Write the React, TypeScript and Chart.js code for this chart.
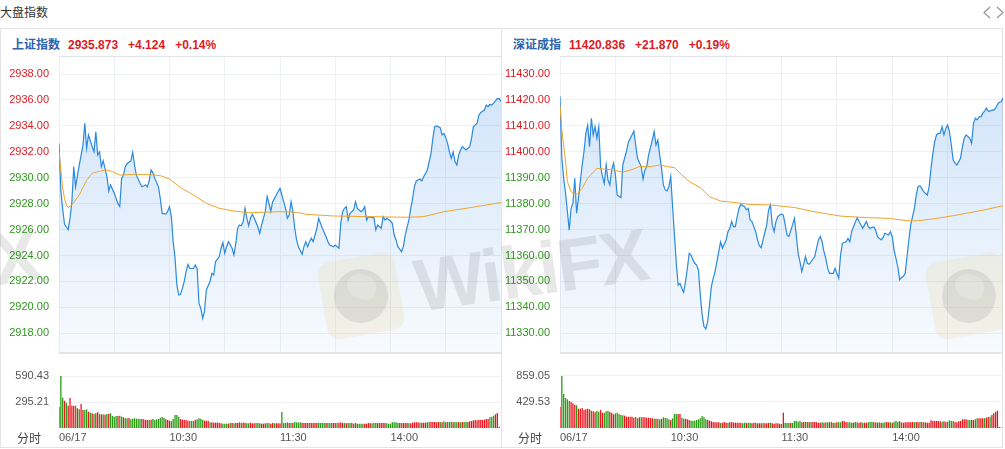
import React, { useEffect, useRef } from "react";
import { Chart, registerables } from "chart.js";

Chart.register(...registerables);

// ---- palette & fonts ----
const UP = "#de1a21";
const DOWN = "#2e971d";
const UP_BAR = "#e8161e";
const DOWN_BAR = "#2b9a14";
const PRICE_LINE = "#2b89de";
const AVG_LINE = "#f0a32c";
const GRID = "#edf0f4";
const FRAME = "#e1e4e9";
const MUTED = "#555555";
const NUM_FONT = "'Liberation Sans', Arial, Helvetica, sans-serif";
const CJK_FONT = "'Noto Sans CJK SC', 'Microsoft YaHei', sans-serif";

// ---- trading-session axis (minute index, 09:30-11:30 + 13:00-15:00) ----
const sessionGrid = [0, 30, 60, 90, 120, 150, 180, 210, 240];
const sessionLabelAt = [0, 60, 120, 180];
const sessionLabelText = ["06/17", "10:30", "11:30", "14:00"];

// ---- 上证指数 ----
const shName = "上证指数";
const shChange = 4.124;
const shPct = 0.14;
const shPriceTicks = [2918, 2920, 2922, 2924, 2926, 2928, 2930, 2932, 2934, 2936, 2938];
const shPriceMin = 2916.48;
const shPriceMax = 2939.39;
const shVolTicks = [295.21, 590.43];
const shVolMax = 851.6;

// [minute, price]
const shPrice = [
  [0, 2932.65], [1, 2929.0], [2, 2927.6], [3, 2926.4], [4, 2926.2], [5, 2926.0], [6, 2926.9], [7, 2928.15],
  [8, 2930.85], [9, 2929.3], [11, 2930.98], [13, 2932.5], [14, 2934.2], [15, 2932.27], [16, 2933.3], [18, 2932.4],
  [19, 2932.0], [20, 2933.55], [21, 2931.75], [22, 2932.0], [23, 2930.85], [24, 2931.3], [25, 2930.7], [26, 2930.1],
  [27, 2928.98], [28, 2929.44], [30, 2928.8], [32, 2928.0], [33, 2927.77], [34, 2929.95], [35, 2930.2], [36, 2930.85],
  [37, 2931.1], [39, 2931.3], [40, 2931.96], [41, 2930.98], [42, 2930.2], [44, 2929.57], [45, 2929.3], [47, 2929.44],
  [48, 2929.3], [49, 2929.8], [50, 2930.6], [51, 2930.4], [52, 2929.95], [54, 2929.3], [55, 2928.4], [56, 2927.25],
  [58, 2927.2], [59, 2927.4], [60, 2927.77], [61, 2927.0], [62, 2925.07], [63, 2923.8], [64, 2921.73], [65, 2920.95],
  [66, 2921.0], [67, 2921.47], [68, 2922.0], [69, 2922.76], [70, 2923.3], [71, 2923.0], [73, 2923.0], [74, 2923.27],
  [75, 2923.0], [76, 2920.3], [77, 2919.93], [78, 2919.16], [79, 2919.67], [80, 2921.34], [82, 2922.0], [83, 2922.63],
  [84, 2922.5], [85, 2923.53], [87, 2923.9], [88, 2924.56], [89, 2925.0], [90, 2924.17], [91, 2924.68], [92, 2925.07],
  [94, 2924.56], [95, 2924.04], [96, 2924.94], [97, 2926.1], [98, 2926.35], [99, 2926.3], [100, 2926.6], [101, 2927.64],
  [102, 2926.87], [103, 2926.3], [104, 2926.9], [105, 2927.18], [106, 2926.87], [108, 2926.2], [109, 2925.7], [110, 2926.35],
  [112, 2927.4], [113, 2928.54], [114, 2928.03], [115, 2927.4], [116, 2928.15], [117, 2928.41], [118, 2928.67], [120, 2929.18],
  [121, 2928.67], [122, 2928.15], [123, 2927.64], [124, 2926.87], [125, 2927.13], [126, 2928.15], [127, 2927.4], [128, 2926.1],
  [129, 2925.2], [130, 2924.68], [132, 2924.09], [133, 2924.68], [134, 2925.07], [135, 2924.68], [136, 2925.07], [137, 2925.33],
  [138, 2925.07], [140, 2926.1], [141, 2926.87], [142, 2926.48], [143, 2926.1], [145, 2925.45], [146, 2925.07], [147, 2924.81],
  [149, 2924.68], [150, 2924.81], [152, 2924.56], [153, 2926.48], [154, 2927.38], [155, 2927.64], [156, 2927.77], [157, 2926.74],
  [158, 2927.25], [160, 2927.51], [161, 2928.15], [162, 2927.64], [164, 2927.38], [165, 2927.51], [166, 2927.77], [167, 2926.74],
  [168, 2927.0], [170, 2926.92], [171, 2926.92], [172, 2925.97], [173, 2926.35], [175, 2926.1], [176, 2927.0], [177, 2926.74],
  [178, 2926.87], [180, 2926.66], [181, 2926.48], [182, 2925.58], [183, 2925.2], [184, 2924.68], [185, 2924.5], [186, 2924.3],
  [187, 2924.68], [188, 2925.58], [190, 2926.74], [191, 2927.64], [192, 2928.41], [193, 2929.31], [194, 2929.75], [196, 2929.9],
  [197, 2929.75], [198, 2930.08], [200, 2930.6], [201, 2931.24], [202, 2931.88], [203, 2933.04], [204, 2933.94], [205, 2933.99],
  [207, 2933.86], [208, 2933.3], [209, 2933.42], [210, 2933.09], [211, 2932.65], [212, 2932.0], [213, 2931.5], [214, 2932.0],
  [215, 2931.24], [216, 2930.98], [217, 2931.75], [218, 2932.14], [219, 2932.4], [220, 2932.27], [221, 2932.14], [223, 2932.4],
  [224, 2933.04], [225, 2933.94], [227, 2934.2], [228, 2934.84], [229, 2935.04], [231, 2935.22], [232, 2935.6], [233, 2935.48],
  [234, 2935.66], [235, 2935.6], [237, 2935.92], [238, 2936.12], [239, 2936.1], [240, 2935.873],
];

const shAvg = [
  [0, 2932.0], [1, 2930.6], [2, 2929.2], [3, 2928.4], [4, 2927.9], [5, 2927.7], [7, 2927.9], [11, 2928.67],
  [15, 2929.8], [18, 2930.34], [22, 2930.5], [26, 2930.6], [29, 2930.47], [33, 2930.2], [40, 2930.26], [48, 2930.26],
  [55, 2930.16], [60, 2929.9], [66, 2929.23], [73, 2928.67], [80, 2928.03], [87, 2927.64], [95, 2927.43], [103, 2927.3],
  [120, 2927.38], [129, 2927.33], [134, 2927.18], [149, 2927.05], [167, 2927.0], [189, 2926.95], [198, 2927.0], [209, 2927.38],
  [221, 2927.64], [230, 2927.85], [240, 2928.08],
];

const shVolume = [
  242, 590.43, 344, 310, 288, 254, 341, 254, 254, 254,
  223, 212, 272, 204, 204, 212, 185, 174, 167, 159,
  167, 178, 159, 155, 155, 151, 159, 159, 167, 136,
  129, 136, 136, 140, 129, 121, 110, 110, 114, 98,
  106, 110, 106, 106, 102, 102, 98, 91, 91, 91,
  95, 102, 91, 98, 102, 117, 125, 117, 98, 91,
  83, 76, 102, 148, 148, 129, 102, 95, 95, 91,
  83, 79, 79, 79, 91, 98, 110, 106, 91, 83,
  83, 83, 64, 64, 61, 61, 61, 61, 53, 49,
  49, 49, 49, 57, 57, 53, 57, 57, 64, 57,
  61, 61, 53, 53, 61, 53, 53, 57, 57, 53,
  49, 49, 53, 53, 57, 49, 57, 53, 53, 53,
  53, 182, 57, 57, 64, 57, 61, 57, 68, 64,
  61, 64, 57, 57, 57, 57, 57, 57, 57, 57,
  57, 57, 57, 57, 57, 57, 57, 57, 57, 57,
  57, 57, 61, 64, 57, 57, 53, 57, 57, 57,
  49, 57, 49, 49, 49, 49, 49, 49, 57, 53,
  53, 57, 57, 57, 57, 57, 57, 57, 53, 49,
  49, 64, 64, 64, 57, 57, 57, 57, 57, 57,
  53, 53, 61, 64, 64, 64, 61, 61, 61, 61,
  64, 68, 68, 68, 68, 64, 68, 68, 64, 76,
  64, 68, 68, 68, 64, 68, 64, 68, 64, 68,
  68, 68, 68, 76, 79, 87, 91, 87, 91, 91,
  91, 95, 102, 102, 121, 129, 140, 155, 170, 14, 0,
];

// 1 = up minute (red), 0 = down minute (green)
const shVolumeUp = [
  1, 0, 0, 1, 0, 1, 1, 1, 1, 0, 1, 0, 1, 1, 0, 0, 1, 0, 1, 0,
  1, 1, 0, 1, 0, 1, 0, 1, 0, 0, 0, 0, 1, 0, 0, 1, 0, 0, 1, 0,
  0, 0, 0, 0, 0, 1, 1, 1, 1, 0, 1, 0, 0, 0, 0, 0, 0, 0, 1, 1,
  1, 0, 0, 0, 0, 0, 1, 1, 1, 1, 1, 0, 0, 0, 1, 0, 0, 0, 0, 1,
  1, 1, 0, 1, 1, 1, 1, 1, 1, 0, 0, 0, 1, 0, 1, 0, 1, 1, 1, 0,
  1, 1, 0, 0, 1, 1, 1, 0, 0, 0, 1, 1, 1, 0, 0, 1, 1, 0, 1, 1,
  1, 0, 0, 0, 0, 1, 0, 1, 0, 0, 0, 0, 1, 1, 1, 1, 0, 1, 1, 1,
  1, 0, 0, 0, 0, 1, 0, 0, 0, 1, 1, 0, 1, 1, 1, 0, 1, 0, 0, 1,
  0, 1, 0, 0, 0, 0, 1, 1, 1, 1, 0, 0, 0, 1, 0, 1, 1, 1, 0, 0,
  0, 0, 0, 0, 0, 1, 0, 1, 1, 1, 0, 1, 1, 1, 1, 1, 0, 1, 1, 1,
  0, 0, 1, 1, 1, 1, 1, 0, 1, 0, 1, 0, 0, 0, 1, 0, 0, 1, 0, 1,
  0, 0, 1, 1, 1, 1, 1, 1, 1, 1, 1, 1, 1, 1, 0, 0, 0, 1, 1, 1, 1,
];

// ---- 深证成指 ----
const szName = "深证成指";
const szChange = 21.87;
const szPct = 0.19;
const szPriceTicks = [11330, 11340, 11350, 11360, 11370, 11380, 11390, 11400, 11410, 11420, 11430];
const szPriceMin = 11322.4;
const szPriceMax = 11436.94;
const szVolTicks = [429.53, 859.05];
const szVolMax = 1239.0;

const szPrice = [
  [0, 11421.3], [1, 11397.5], [2, 11389.8], [3, 11384.0], [4, 11377.0], [5, 11369.8], [6, 11378.2], [7, 11380.1],
  [8, 11389.8], [9, 11376.3], [10, 11382.1], [11, 11388.5], [12, 11394.9], [13, 11400.1], [14, 11407.1], [15, 11410.3],
  [16, 11402.0], [17, 11412.9], [18, 11406.5], [19, 11409.7], [20, 11405.2], [21, 11409.7], [22, 11394.3], [23, 11390.4],
  [24, 11387.8], [25, 11394.9], [26, 11389.1], [27, 11387.2], [28, 11393.0], [29, 11395.6], [30, 11391.1], [31, 11383.3],
  [33, 11382.3], [34, 11394.9], [35, 11397.5], [36, 11400.1], [37, 11403.6], [39, 11406.5], [40, 11408.0], [41, 11402.6],
  [42, 11397.5], [44, 11394.3], [45, 11389.5], [46, 11393.0], [47, 11394.3], [48, 11398.8], [50, 11404.5], [51, 11407.8],
  [52, 11402.6], [53, 11404.5], [54, 11398.8], [55, 11393.6], [56, 11387.2], [57, 11385.3], [58, 11384.9], [59, 11386.6],
  [60, 11390.4], [61, 11378.8], [62, 11367.9], [63, 11357.0], [64, 11348.6], [65, 11349.3], [66, 11347.4], [67, 11345.8],
  [68, 11349.9], [69, 11355.1], [70, 11360.8], [71, 11360.2], [72, 11358.3], [73, 11357.0], [74, 11356.3], [75, 11354.4],
  [76, 11344.8], [77, 11337.1], [78, 11332.6], [79, 11331.7], [80, 11334.5], [81, 11340.9], [82, 11348.0], [83, 11351.2],
  [84, 11353.8], [85, 11357.6], [86, 11361.5], [87, 11365.3], [88, 11362.8], [90, 11366.0], [91, 11369.2], [92, 11370.5],
  [93, 11373.1], [94, 11371.1], [95, 11371.1], [96, 11375.0], [97, 11378.2], [98, 11379.7], [100, 11378.8], [101, 11377.6],
  [102, 11378.2], [103, 11373.7], [104, 11373.1], [106, 11369.2], [107, 11366.0], [108, 11363.8], [109, 11363.0], [110, 11366.0],
  [112, 11371.8], [113, 11377.6], [114, 11379.5], [115, 11371.8], [116, 11369.2], [117, 11373.1], [118, 11375.0], [119, 11375.6],
  [120, 11375.9], [121, 11375.6], [122, 11371.8], [123, 11367.9], [124, 11367.3], [126, 11371.8], [127, 11374.3], [128, 11367.9],
  [129, 11360.8], [130, 11357.6], [131, 11353.8], [132, 11356.6], [133, 11359.6], [134, 11357.0], [135, 11356.6], [136, 11357.6],
  [138, 11359.6], [139, 11362.8], [140, 11366.0], [141, 11367.3], [142, 11365.3], [143, 11361.5], [144, 11358.9], [145, 11355.1],
  [146, 11353.1], [148, 11353.1], [149, 11355.1], [150, 11353.1], [151, 11351.2], [152, 11360.2], [153, 11364.7], [155, 11365.3],
  [156, 11366.6], [157, 11365.3], [158, 11369.2], [159, 11371.1], [161, 11374.6], [162, 11373.1], [164, 11370.5], [165, 11371.8],
  [166, 11373.1], [167, 11371.1], [168, 11370.5], [170, 11371.1], [171, 11369.8], [172, 11367.3], [174, 11366.0], [175, 11366.9],
  [176, 11368.6], [178, 11367.9], [179, 11369.2], [180, 11367.3], [181, 11362.1], [182, 11358.9], [183, 11355.7], [184, 11350.6],
  [185, 11351.5], [186, 11351.9], [187, 11353.1], [188, 11359.6], [189, 11366.0], [190, 11371.8], [192, 11378.2], [193, 11383.3],
  [194, 11386.6], [195, 11386.9], [196, 11385.9], [197, 11384.6], [199, 11383.3], [200, 11386.6], [201, 11393.6], [202, 11399.4],
  [203, 11403.9], [204, 11406.5], [205, 11407.1], [206, 11407.1], [207, 11409.7], [208, 11406.5], [209, 11409.0], [210, 11410.3],
  [211, 11407.8], [212, 11402.6], [213, 11396.8], [214, 11395.6], [215, 11394.9], [217, 11397.5], [218, 11402.0], [219, 11405.2],
  [220, 11406.5], [222, 11405.2], [223, 11403.3], [224, 11411.0], [225, 11412.9], [226, 11412.3], [227, 11413.5], [228, 11413.5],
  [229, 11414.8], [230, 11415.7], [231, 11416.8], [232, 11415.7], [233, 11415.7], [234, 11416.1], [235, 11416.1], [236, 11416.8],
  [237, 11418.3], [238, 11419.1], [239, 11419.3], [240, 11420.836],
];

const szAvg = [
  [0, 11418.0], [1, 11408.4], [3, 11396.2], [4, 11388.5], [6, 11384.6], [9, 11383.6], [12, 11385.9], [15, 11389.8],
  [20, 11393.6], [23, 11393.4], [29, 11393.0], [34, 11392.1], [40, 11393.4], [43, 11394.3], [49, 11394.3], [54, 11394.9],
  [58, 11394.3], [62, 11393.9], [66, 11391.1], [70, 11388.5], [76, 11386.2], [81, 11382.7], [87, 11381.0], [94, 11380.5],
  [103, 11379.7], [114, 11379.5], [127, 11378.5], [139, 11376.7], [152, 11375.2], [166, 11374.6], [179, 11374.3], [188, 11373.4],
  [194, 11373.4], [204, 11374.3], [215, 11375.6], [230, 11377.6], [240, 11379.2],
];

const szVolume = [
  352, 859.05, 562, 496, 474, 446, 430, 408, 385, 374,
  319, 319, 330, 297, 308, 319, 308, 286, 275, 259,
  286, 270, 297, 253, 253, 275, 286, 264, 253, 226,
  242, 253, 231, 215, 209, 204, 187, 187, 187, 187,
  171, 182, 160, 176, 182, 176, 176, 171, 171, 165,
  160, 154, 154, 154, 143, 149, 176, 171, 160, 143,
  132, 160, 231, 231, 231, 231, 171, 154, 154, 143,
  132, 121, 121, 121, 132, 143, 160, 198, 176, 143,
  132, 121, 110, 99, 94, 94, 94, 83, 88, 99,
  88, 88, 94, 99, 88, 88, 88, 88, 88, 77,
  88, 83, 88, 88, 77, 88, 88, 77, 77, 77,
  83, 77, 77, 83, 88, 77, 72, 77, 77, 72,
  66, 253, 83, 83, 83, 83, 83, 116, 116, 105,
  116, 94, 99, 99, 99, 99, 99, 99, 99, 94,
  88, 88, 94, 88, 94, 94, 94, 99, 88, 88,
  94, 94, 94, 116, 110, 99, 94, 94, 88, 88,
  99, 94, 88, 94, 88, 88, 88, 94, 99, 99,
  94, 94, 88, 94, 88, 88, 94, 99, 94, 94,
  88, 105, 116, 105, 110, 94, 88, 94, 94, 99,
  94, 99, 94, 99, 94, 99, 99, 94, 94, 88,
  88, 127, 116, 116, 116, 116, 110, 105, 110, 99,
  105, 127, 116, 116, 99, 94, 110, 116, 143, 143,
  143, 132, 132, 132, 132, 143, 160, 160, 160, 160,
  160, 171, 182, 187, 215, 242, 270, 286, 15, 10, 0,
];

const szVolumeUp = [
  1, 0, 0, 0, 0, 0, 1, 1, 1, 0, 1, 1, 1, 1, 1, 1, 1, 0, 1, 1,
  0, 0, 1, 1, 0, 0, 0, 1, 1, 1, 0, 0, 0, 0, 0, 1, 1, 1, 1, 1,
  1, 0, 0, 1, 0, 1, 1, 1, 1, 1, 1, 0, 1, 0, 0, 1, 0, 0, 0, 0,
  1, 0, 0, 0, 1, 1, 0, 0, 1, 1, 1, 0, 0, 0, 0, 0, 0, 0, 0, 0,
  1, 1, 1, 1, 1, 1, 1, 0, 1, 1, 1, 0, 1, 1, 1, 1, 1, 1, 1, 0,
  0, 1, 0, 0, 1, 1, 0, 1, 1, 1, 0, 1, 1, 1, 0, 1, 1, 1, 1, 1,
  0, 1, 0, 0, 0, 1, 0, 0, 0, 0, 0, 1, 1, 0, 0, 1, 0, 1, 1, 1,
  1, 1, 0, 1, 0, 0, 1, 0, 1, 0, 1, 0, 0, 1, 1, 1, 0, 0, 0, 1,
  0, 0, 1, 1, 0, 1, 1, 0, 0, 0, 1, 0, 1, 0, 1, 0, 0, 1, 1, 0,
  1, 0, 0, 0, 1, 0, 1, 1, 1, 1, 1, 1, 0, 1, 1, 0, 1, 0, 1, 1,
  1, 1, 1, 1, 1, 1, 1, 0, 1, 1, 0, 0, 0, 0, 1, 1, 1, 1, 1, 1,
  1, 0, 0, 1, 1, 0, 0, 1, 1, 1, 0, 1, 1, 0, 1, 1, 1, 1, 1, 1, 1,
];

const shPanel = {
  name: shName, change: shChange, pct: shPct, price: shPrice, avg: shAvg,
  priceTicks: shPriceTicks, priceMin: shPriceMin, priceMax: shPriceMax,
  volume: shVolume, volumeUp: shVolumeUp, volTicks: shVolTicks, volMax: shVolMax,
};
const szPanel = {
  name: szName, change: szChange, pct: szPct, price: szPrice, avg: szAvg,
  priceTicks: szPriceTicks, priceMin: szPriceMin, priceMax: szPriceMax,
  volume: szVolume, volumeUp: szVolumeUp, volTicks: szVolTicks, volMax: szVolMax,
};

// ---- layout constants ----
const PANEL_TOP = 28;
const PRICE_TOP = 56;
const PRICE_H = 297;
const VOL_TOP = 353;
const VOL_H = 94;
const AXIS_W = 59;

// thin lines along the plot's top / bottom edge
const frameLines = (top: boolean, bottom: boolean) => ({
  id: "frameLines",
  afterDraw(chart: any) {
    const { ctx, chartArea: a } = chart;
    ctx.save();
    ctx.strokeStyle = FRAME;
    ctx.lineWidth = 1;
    ctx.beginPath();
    if (top) {
      ctx.moveTo(a.left, a.top + 0.5);
      ctx.lineTo(a.right, a.top + 0.5);
    }
    if (bottom) {
      ctx.moveTo(a.left, a.bottom - 0.5);
      ctx.lineTo(a.right, a.bottom - 0.5);
    }
    ctx.stroke();
    ctx.restore();
  },
});

const fixedYAxis = (s: any) => {
  s.width = AXIS_W;
  s.paddingTop = 0;
  s.paddingBottom = 0;
};

function PricePane({ left, width, d }: any) {
  const ref = useRef<HTMLCanvasElement>(null);
  useEffect(() => {
    const last = d.price[d.price.length - 1][1];
    const prevClose = last - d.change;
    const chart = new Chart(ref.current as HTMLCanvasElement, {
      type: "line",
      data: {
        datasets: [
          {
            data: d.avg.map((p: number[]) => ({ x: p[0], y: p[1] })),
            borderColor: AVG_LINE,
            borderWidth: 1,
            pointRadius: 0,
            fill: false,
            order: 0,
          },
          {
            data: d.price.map((p: number[]) => ({ x: p[0], y: p[1] })),
            borderColor: PRICE_LINE,
            borderWidth: 1.2,
            pointRadius: 0,
            fill: "start",
            order: 1,
            backgroundColor: (c: any) => {
              const a = c.chart.chartArea;
              if (!a) return "rgba(58,138,232,0.12)";
              const g = c.chart.ctx.createLinearGradient(0, a.top, 0, a.bottom);
              g.addColorStop(0, "rgba(58,138,232,0.25)");
              g.addColorStop(1, "rgba(58,138,232,0.04)");
              return g;
            },
          },
        ],
      } as any,
      options: {
        animation: false,
        responsive: false,
        events: [],
        layout: { padding: 0 },
        plugins: { legend: { display: false }, tooltip: { enabled: false } },
        scales: {
          x: {
            type: "linear",
            min: 0,
            max: 240,
            afterBuildTicks: (s: any) => {
              s.ticks = sessionGrid.map((v) => ({ value: v }));
            },
            ticks: { display: false },
            grid: { color: GRID, drawTicks: false },
            border: { display: false },
            afterFit: (s: any) => {
              s.height = 0;
              s.paddingLeft = 0;
              s.paddingRight = 0;
            },
          },
          y: {
            min: d.priceMin,
            max: d.priceMax,
            afterBuildTicks: (s: any) => {
              s.ticks = d.priceTicks.map((v: number) => ({ value: v }));
            },
            ticks: {
              padding: 10,
              font: { family: NUM_FONT, size: 11 },
              color: (c: any) => (c.tick.value > prevClose ? UP : c.tick.value < prevClose ? DOWN : MUTED),
              callback: (v: any) => Number(v).toFixed(2),
            },
            grid: { color: GRID, drawTicks: false },
            border: { display: false },
            afterFit: fixedYAxis,
          },
        },
      } as any,
      plugins: [frameLines(true, true)],
    });
    return () => chart.destroy();
  }, [d]);
  return (
    <canvas
      ref={ref}
      width={width}
      height={PRICE_H}
      style={{ position: "absolute", left, top: PRICE_TOP, width, height: PRICE_H }}
    />
  );
}

function VolumePane({ left, width, d }: any) {
  const ref = useRef<HTMLCanvasElement>(null);
  useEffect(() => {
    const chart = new Chart(ref.current as HTMLCanvasElement, {
      type: "bar",
      data: {
        datasets: [
          {
            data: d.volume.map((v: number, i: number) => ({ x: i, y: v })),
            backgroundColor: d.volumeUp.map((u: number) => (u ? UP_BAR : DOWN_BAR)),
            barPercentage: 0.7,
            categoryPercentage: 1,
            borderWidth: 0,
          },
        ],
      } as any,
      options: {
        animation: false,
        responsive: false,
        events: [],
        layout: { padding: 0 },
        plugins: { legend: { display: false }, tooltip: { enabled: false } },
        scales: {
          x: {
            type: "linear",
            min: 0,
            max: 240,
            offset: false,
            afterBuildTicks: (s: any) => {
              s.ticks = sessionLabelAt.map((v) => ({ value: v }));
            },
            ticks: {
              align: "start",
              autoSkip: false,
              maxRotation: 0,
              minRotation: 0,
              padding: 3,
              color: MUTED,
              font: { family: NUM_FONT, size: 11 },
              callback: (v: any) => {
                const k = sessionLabelAt.indexOf(Number(v));
                return k >= 0 ? sessionLabelText[k] : "";
              },
            },
            grid: { display: false, drawTicks: false, offset: false },
            border: { display: false },
            afterFit: (s: any) => {
              s.height = 19;
              s.paddingLeft = 0;
              s.paddingRight = 0;
            },
          },
          y: {
            min: 0,
            max: d.volMax,
            afterBuildTicks: (s: any) => {
              s.ticks = d.volTicks.map((v: number) => ({ value: v }));
            },
            ticks: {
              padding: 10,
              color: MUTED,
              font: { family: NUM_FONT, size: 11 },
              callback: (v: any) => Number(v).toFixed(2),
            },
            grid: { color: GRID, drawTicks: false },
            border: { display: false },
            afterFit: fixedYAxis,
          },
        },
      } as any,
      plugins: [frameLines(true, false)],
    });
    return () => chart.destroy();
  }, [d]);
  return (
    <canvas
      ref={ref}
      width={width}
      height={VOL_H}
      style={{ position: "absolute", left, top: VOL_TOP, width, height: VOL_H }}
    />
  );
}

function Header({ left, d }: any) {
  const last = d.price[d.price.length - 1][1];
  const sign = d.change >= 0 ? "+" : "";
  const numStyle: React.CSSProperties = {
    fontFamily: NUM_FONT,
    fontWeight: "bold",
    fontSize: 12,
    color: d.change >= 0 ? UP : DOWN,
  };
  return (
    <div
      style={{
        position: "absolute",
        left,
        top: 35,
        height: 17,
        lineHeight: "17px",
        whiteSpace: "nowrap",
      }}
    >
      <span style={{ fontFamily: CJK_FONT, fontSize: 12, fontWeight: "bold", color: "#2e62ad" }}>{d.name}</span>
      <span style={{ ...numStyle, marginLeft: 8 }}>{last.toFixed(3)}</span>
      <span style={{ ...numStyle, marginLeft: 10 }}>{sign + d.change.toFixed(3)}</span>
      <span style={{ ...numStyle, marginLeft: 10 }}>{sign + d.pct.toFixed(2) + "%"}</span>
    </div>
  );
}

function Watermark() {
  const shifts = [-608, 0, 608];
  return (
    <div
      style={{
        position: "absolute",
        left: 0,
        top: 0,
        width: 1003,
        height: 447,
        overflow: "hidden",
        pointerEvents: "none",
      }}
    >
      {shifts.map((dx) => (
        <React.Fragment key={dx}>
          <div
            style={{
              position: "absolute",
              left: 322 + dx,
              top: 257,
              width: 78,
              height: 78,
              borderRadius: 12,
              background: "rgba(236,212,140,0.2)",
              transform: "rotate(-10deg)",
            }}
          >
            <div
              style={{
                position: "absolute",
                left: 12,
                top: 12,
                width: 54,
                height: 54,
                borderRadius: "50%",
                background: "rgba(95,95,95,0.13)",
              }}
            />
            <div
              style={{
                position: "absolute",
                left: 26,
                top: 18,
                width: 30,
                height: 24,
                borderRadius: "50% 50% 40% 60%",
                background: "rgba(255,255,255,0.22)",
                transform: "rotate(25deg)",
              }}
            />
          </div>
          <div
            style={{
              position: "absolute",
              left: 415 + dx,
              top: 250,
              fontFamily: NUM_FONT,
              fontWeight: "bold",
              fontSize: 74,
              lineHeight: "74px",
              letterSpacing: -2,
              color: "rgba(90,90,90,0.14)",
              whiteSpace: "nowrap",
              transform: "rotate(-8deg)",
              transformOrigin: "0 50%",
            }}
          >
            WikiFX
          </div>
        </React.Fragment>
      ))}
    </div>
  );
}

export default function App() {
  const caption: React.CSSProperties = {
    position: "absolute",
    top: 429,
    fontFamily: CJK_FONT,
    fontSize: 12,
    lineHeight: "17px",
    color: "#444",
  };
  return (
    <div
      style={{
        position: "absolute",
        left: 0,
        top: 0,
        width: 1005,
        height: 449,
        background: "#fff",
        overflow: "hidden",
      }}
    >
      <div
        style={{
          position: "absolute",
          left: 0,
          top: 4,
          fontFamily: CJK_FONT,
          fontSize: 12,
          lineHeight: "16px",
          color: "#333",
        }}
      >
        大盘指数
      </div>
      <svg
        width={21}
        height={13}
        style={{ position: "absolute", left: 983, top: 6 }}
      >
        <polyline points="7,1 1,6.5 7,12" fill="none" stroke="#8a96a3" strokeWidth={1.2} />
        <polyline points="14,1 20,6.5 14,12" fill="none" stroke="#8a96a3" strokeWidth={1.2} />
      </svg>

      <div
        style={{
          position: "absolute",
          left: 0,
          top: PANEL_TOP,
          width: 1003,
          height: 420,
          boxSizing: "border-box",
          border: "1px solid #e4e4e4",
        }}
      />
      <div style={{ position: "absolute", left: 501, top: PANEL_TOP, width: 1, height: 420, background: "#e4e4e4" }} />

      <Header left={12} d={shPanel} />
      <Header left={513} d={szPanel} />

      <PricePane left={0} width={501} d={shPanel} />
      <VolumePane left={0} width={501} d={shPanel} />
      <PricePane left={501} width={502} d={szPanel} />
      <VolumePane left={501} width={502} d={szPanel} />

      <div style={{ ...caption, left: 17 }}>分时</div>
      <div style={{ ...caption, left: 518 }}>分时</div>

      <Watermark />
    </div>
  );
}
